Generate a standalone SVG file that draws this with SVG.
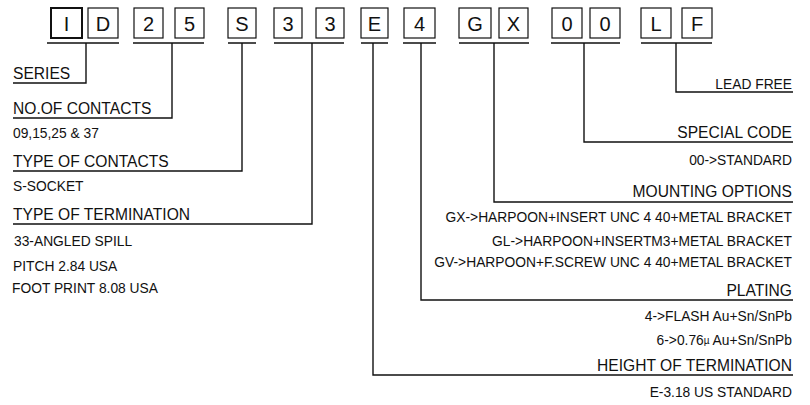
<svg xmlns="http://www.w3.org/2000/svg" width="810" height="405" viewBox="0 0 810 405">
<style>
text{font-family:"Liberation Sans",Arial,sans-serif;fill:#111}
.box{fill:#fff;stroke:#111;stroke-width:1.2}
.bold{stroke-width:2}
.ch{font-size:20px;text-anchor:middle}
.h{font-size:15.6px}
.s{font-size:13.8px}
.r{text-anchor:end}
.ln{fill:none;stroke:#111;stroke-width:1.4}
</style>
<rect width="810" height="405" fill="#fff"/>
<g id="codes">
<g id="c-I"><rect class="box bold" x="51" y="8" width="31" height="30"/><text class="ch" x="66.5" y="30.5">I</text></g>
<g id="c-D"><rect class="box" x="88" y="8" width="30" height="30"/><text class="ch" x="103" y="30.5">D</text></g>
<g id="c-2"><rect class="box" x="134" y="8" width="29" height="30"/><text class="ch" x="148.5" y="30.5">2</text></g>
<g id="c-5"><rect class="box" x="175" y="8" width="29" height="30"/><text class="ch" x="189.5" y="30.5">5</text></g>
<g id="c-S"><rect class="box" x="228" y="8" width="28" height="30"/><text class="ch" x="242" y="30.5">S</text></g>
<g id="c-3a"><rect class="box" x="274" y="8" width="28" height="30"/><text class="ch" x="288" y="30.5">3</text></g>
<g id="c-3b"><rect class="box" x="316" y="8" width="28" height="30"/><text class="ch" x="330" y="30.5">3</text></g>
<g id="c-E"><rect class="box" x="361" y="8" width="27" height="30"/><text class="ch" x="374.5" y="30.5">E</text></g>
<g id="c-4"><rect class="box" x="404" y="8" width="31" height="30"/><text class="ch" x="419.5" y="30.5">4</text></g>
<g id="c-G"><rect class="box" x="459" y="8" width="32" height="30"/><text class="ch" x="475" y="30.5">G</text></g>
<g id="c-X"><rect class="box" x="499" y="8" width="29" height="30"/><text class="ch" x="513.5" y="30.5">X</text></g>
<g id="c-0a"><rect class="box" x="552" y="8" width="30" height="30"/><text class="ch" x="567" y="30.5">0</text></g>
<g id="c-0b"><rect class="box" x="590" y="8" width="30" height="30"/><text class="ch" x="605" y="30.5">0</text></g>
<g id="c-L"><rect class="box" x="641" y="8" width="30" height="30"/><text class="ch" x="656" y="30.5">L</text></g>
<g id="c-F"><rect class="box" x="682" y="8" width="30" height="30"/><text class="ch" x="697" y="30.5">F</text></g>
</g>
<g id="connectors">
<path class="ln" d="M47 43H119M133 43H204M228 43H256M274 43H344M361 43H388M403 43H436M459 43H529M551 43H620M641 43H712"/>
<path class="ln" d="M86 43V83H13"/>
<path class="ln" d="M172 43V118H13"/>
<path class="ln" d="M242 43V171H13"/>
<path class="ln" d="M312 43V224H13"/>
<path class="ln" d="M373 43V375H793"/>
<path class="ln" d="M421 43V300H793"/>
<path class="ln" d="M494 43V202H793"/>
<path class="ln" d="M584 43V142H793"/>
<path class="ln" d="M676 43V92H793"/>
</g>
<g id="series"><text class="h" x="13" y="79">SERIES</text></g>
<g id="no-of-contacts"><text class="h" x="13" y="114">NO.OF CONTACTS</text><text class="s" x="13" y="138">09,15,25 &amp; 37</text></g>
<g id="type-of-contacts"><text class="h" x="13" y="167">TYPE OF CONTACTS</text><text class="s" x="13" y="191">S-SOCKET</text></g>
<g id="type-of-termination"><text class="h" x="13" y="220">TYPE OF TERMINATION</text><text class="s" x="14" y="246">33-ANGLED SPILL</text><text class="s" x="13" y="271">PITCH 2.84 USA</text><text class="s" x="12" y="293">FOOT PRINT 8.08 USA</text></g>
<g id="lead-free"><text class="s r" x="792" y="89">LEAD FREE</text></g>
<g id="special-code"><text class="h r" x="792" y="138">SPECIAL CODE</text><text class="s r" x="792" y="165">00-&gt;STANDARD</text></g>
<g id="mounting-options"><text class="h r" x="792" y="197">MOUNTING OPTIONS</text><text class="s r" x="792" y="222">GX-&gt;HARPOON+INSERT UNC 4 40+METAL BRACKET</text><text class="s r" x="792" y="246">GL-&gt;HARPOON+INSERTM3+METAL BRACKET</text><text class="s r" x="792" y="267">GV-&gt;HARPOON+F.SCREW UNC 4 40+METAL BRACKET</text></g>
<g id="plating"><text class="h r" x="792" y="296">PLATING</text><text class="s r" x="792" y="321">4-&gt;FLASH Au+Sn/SnPb</text><text class="s r" x="792" y="345">6-&gt;0.76<tspan font-size="10" dy="-1">µ</tspan><tspan dy="1"> Au+Sn/SnPb</tspan></text></g>
<g id="height-of-termination"><text class="h r" x="792" y="371">HEIGHT OF TERMINATION</text><text class="s r" x="792" y="397">E-3.18 US STANDARD</text></g>
</svg>
